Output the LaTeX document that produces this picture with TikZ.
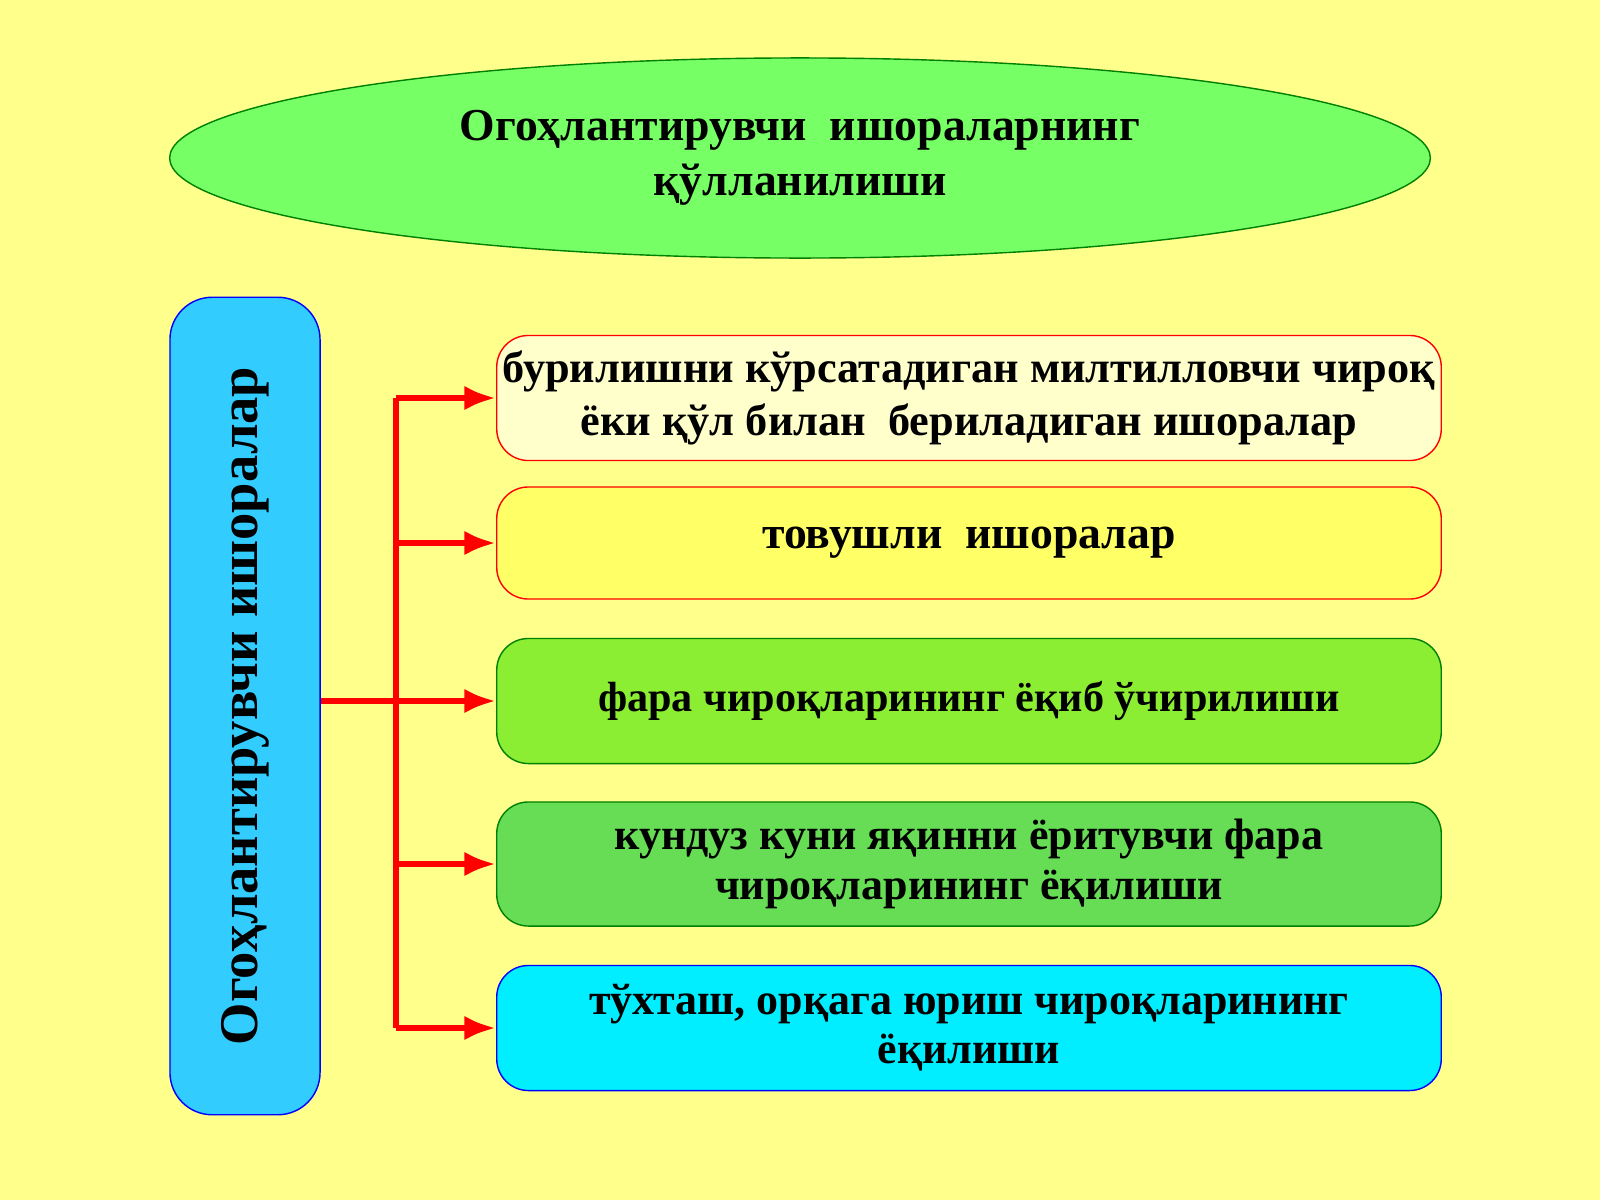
\documentclass[tikz,border=0pt]{standalone}
\usepackage{fontspec}
\setmainfont{Liberation Serif}
\usetikzlibrary{shapes.geometric,arrows.meta}
\definecolor{bgyellow}{HTML}{FFFF8C}
\definecolor{ovalgreen}{HTML}{77FF66}
\definecolor{sideblue}{HTML}{33CCFF}
\definecolor{paleyellow}{HTML}{FFFFCC}
\definecolor{brightyellow}{HTML}{FFFF66}
\definecolor{limegreen}{HTML}{8CEE33}
\definecolor{midgreen}{HTML}{66DD55}
\definecolor{cyanbox}{HTML}{00EEFF}
\tikzset{
  item/.style={draw, rounded corners=9pt, minimum width=9.44cm, align=center,
    font=\fontsize{12.5}{14}\selectfont\bfseries, inner sep=0pt},
  link/.style={draw=red, line width=1.8pt, -{Latex[length=9pt,width=7pt]}}
}
\begin{document}
\begin{tikzpicture}[x=0.01cm, y=-0.01cm]
\fill[bgyellow] (0,0) rectangle (1600,1200);
\useasboundingbox (0,0) rectangle (1600,1200);
\node (title) at (800,158) [ellipse, draw=green!50!black, fill=ovalgreen, minimum width=12.6cm, minimum height=2cm, align=center, font=\fontsize{13}{15.5}\selectfont\bfseries] {Огоҳлантирувчи\ \ ишораларнинг\\қўлланилиши};
\node (side) at (245,706) [draw=blue, fill=sideblue, rounded corners=12pt, minimum width=1.5cm, minimum height=8.17cm] {};
\node at (side) [rotate=90, font=\fontsize{15.5}{18}\selectfont\bfseries] {Огоҳлантирувчи ишоралар};
\node (a) at (969,398) [item, draw=red, fill=paleyellow, minimum height=1.25cm, font=\fontsize{12.6}{15}\selectfont\bfseries] {бурилишни кўрсатадиган милтилловчи чироқ\\ёки қўл билан\ \ бериладиган ишоралар};
\node (b) at (969,543) [item, draw=red, fill=brightyellow, minimum height=1.12cm, font=\fontsize{13}{15}\selectfont\bfseries] {товушли\ \ ишоралар};
\node (c) at (969,701) [item, draw=green!50!black, fill=limegreen, minimum height=1.25cm, font=\fontsize{12}{14}\selectfont\bfseries] {фара чироқларининг ёқиб ўчирилиши};
\node (d) at (969,864) [item, draw=green!50!black, fill=midgreen, minimum height=1.24cm] {кундуз куни яқинни ёритувчи фара\\чироқларининг ёқилиши};
\node (e) at (969,1028) [item, draw=blue, fill=cyanbox, minimum height=1.25cm] {тўхташ, орқага юриш чироқларининг\\ёқилиши};
\coordinate (top) at (396,398);
\coordinate (bot) at (396,1028);
\draw[red, line width=1.8pt] (top) -- (bot);
\draw[red, line width=1.8pt] (side.east |- c) -- (396,701);
\foreach \n in {a,b,c,d,e}
  \draw[link] (396,0 |- \n) -- (\n.west);
\end{tikzpicture}
\end{document}
